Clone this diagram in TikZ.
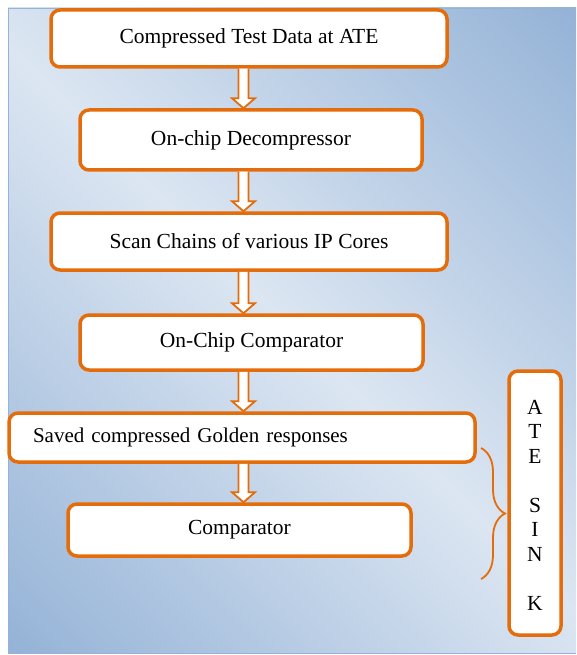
\documentclass[tikz,border=0pt]{standalone}
\usepackage{fontspec}
\setmainfont{Liberation Serif}
\usetikzlibrary{calc,decorations.pathreplacing}
\definecolor{orangebord}{HTML}{E46C0A}
\definecolor{bleufonce}{HTML}{95B3D7}
\definecolor{bleuclair}{HTML}{DCE6F2}
\pgfdeclareverticalshading{fondbleu}{100bp}{color(0bp)=(bleufonce); color(15bp)=(bleufonce); color(50bp)=(bleuclair); color(85bp)=(bleufonce); color(100bp)=(bleufonce)}

\begin{document}
\begin{tikzpicture}[x=1pt,y=-1pt,
  boite/.style={draw=orangebord, fill=white, line width=3.5pt, rounded corners=9pt,
    inner sep=0pt, font=\fontsize{21.5}{24.5}\selectfont},
  fleche/.style={draw=orangebord, fill=white, line width=1.8pt, line join=miter,
    to path={let \p1=(\tikztostart), \p2=(\tikztotarget), \p3=(axe) in
      (\x3-5pt,\y1) -- (\x3-5pt,\y2+10pt) -- (\x3-11.5pt,\y2+10pt) -- (\x3,\y2)
      -- (\x3+11.5pt,\y2+10pt) -- (\x3+5pt,\y2+10pt) -- (\x3+5pt,\y1)}}]
\useasboundingbox (0,0) rectangle (576,655);
% fond en degrade
\shade[shading=fondbleu, shading angle=-45] (8,8) rectangle (576,653);
\draw[color=bleufonce, line width=0.8pt] (576,8) -- (8,8) -- (8,653) -- (576,653);

\coordinate (axe) at (243.5,0);
\node[boite, minimum width=396pt, minimum height=57pt] (donnees) at (249,38.5) {Compressed Test Data at ATE};
\node[boite, minimum width=342pt, minimum height=60pt] (decomp) at (251,140) {On-chip Decompressor};
\node[boite, minimum width=396pt, minimum height=57pt] (scan) at (249,241.5) {Scan Chains of various IP Cores};
\node[boite, minimum width=343pt, minimum height=55pt] (compchip) at (251.5,342.5) {On-Chip Comparator};
\node[boite, minimum width=466pt, minimum height=49pt, text width=418pt, align=left, font=\fontsize{21}{24.5}\selectfont] (golden) at (242,437.5) {\mbox{Saved compressed Golden responses}};
\node[boite, minimum width=343pt, minimum height=52pt] (comp) at (239.5,530) {Comparator};
\node[boite, minimum width=52pt, minimum height=264pt, align=center] (puits) at (535,503) {\\[-6pt]A\\T\\E\\[24.5pt]S\\I\\N\\[24.5pt]K};

\draw[fleche] (donnees.south) to (decomp.north);
\draw[fleche] (decomp.south) to (scan.north);
\draw[fleche] (scan.south) to (compchip.north);
\draw[fleche] (compchip.south) to (golden.north);
\draw[fleche] (golden.south) to (comp.north);

% accolade vers ATE SINK
\coordinate (haut) at (481,448);
\coordinate (bas) at (481,579);
\draw[color=orangebord, line width=1.8pt, decorate, decoration={brace, amplitude=24pt}] (haut) -- (bas);
\end{tikzpicture}
\end{document}
